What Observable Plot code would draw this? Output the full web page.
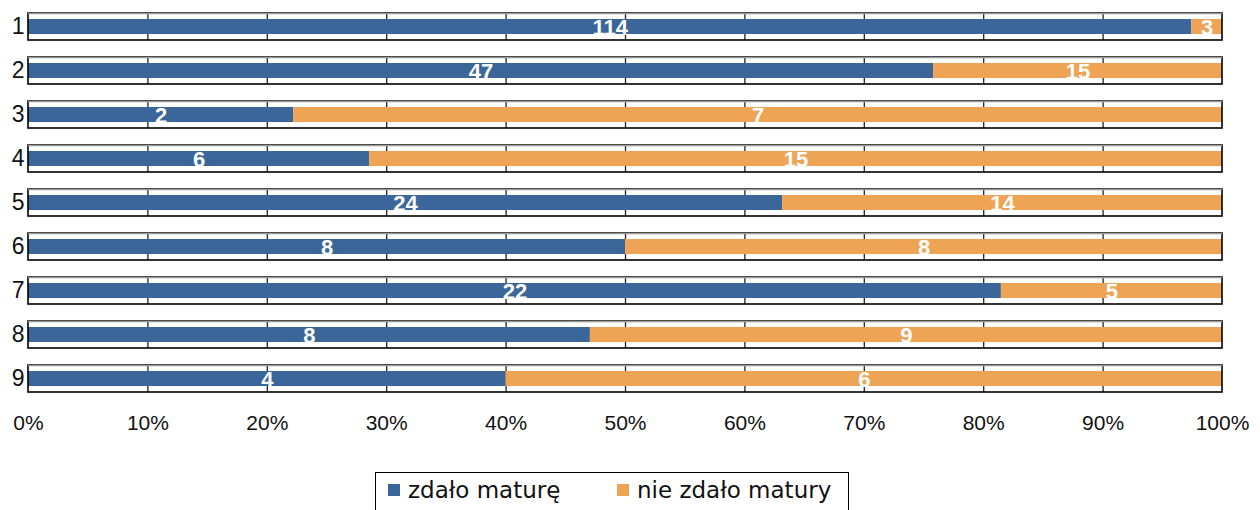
<!DOCTYPE html>
<html>
<head>
<meta charset="utf-8">
<script src="https://cdn.jsdelivr.net/npm/d3@7"></script>
<script src="https://cdn.jsdelivr.net/npm/@observablehq/plot@0.6"></script>
<style>
  body { margin: 0; background: #fff; font-family: "Liberation Sans", Arial, sans-serif; }
  #legend {
    position: absolute; left: 375px; top: 472px; width: 474px; height: 50px;
    border: 1.5px solid #000; box-sizing: border-box;
    font-family: "DejaVu Sans", Verdana, sans-serif; font-size: 23px; color: #111;
  }
  .item { position: absolute; top: 3px; display: flex; align-items: center; line-height: 28px; }
  .sw { width: 12px; height: 12px; margin-right: 8px; }
</style>
</head>
<body>
<div id="chart"></div>
<div id="legend">
  <div class="item" style="left:12px"><span class="sw" style="background:#3A6699"></span>zdało maturę</div>
  <div class="item" style="left:241px"><span class="sw" style="background:#EEA355"></span>nie zdało matury</div>
</div>
<script>
const categories = ["1","2","3","4","5","6","7","8","9"];
const passed = [114, 47, 2, 6, 24, 8, 22, 8, 4];
const failed = [3, 15, 7, 15, 14, 8, 5, 9, 6];
const seriesNames = ["zdało maturę", "nie zdało matury"];
const seriesColors = ["#3A6699", "#EEA355"];
const xTicks = [0, 0.1, 0.2, 0.3, 0.4, 0.5, 0.6, 0.7, 0.8, 0.9, 1];

const data = [];
categories.forEach((c, i) => {
  data.push({row: c, series: seriesNames[0], value: passed[i]});
  data.push({row: c, series: seriesNames[1], value: failed[i]});
});
const boxes = categories.map(c => ({row: c}));
const grid = [];
categories.forEach(c => xTicks.slice(1, -1).forEach(t => grid.push({row: c, x: t})));

const stackOpts = {x: "value", y: "row", z: "series", offset: "normalize", order: seriesNames};

const chart = Plot.plot({
  width: 1260,
  height: 442,
  marginLeft: 28,
  marginRight: 38,
  marginTop: 13,
  marginBottom: 50,
  style: {fontFamily: "'Liberation Sans', Arial, sans-serif", fontSize: "21px", color: "#111", background: "#fff"},
  x: {domain: [0, 1], ticks: xTicks, tickFormat: d => Math.round(d * 100) + "%", tickSize: 0, tickPadding: 23, label: null},
  y: {domain: categories, paddingInner: 17/44, paddingOuter: 0, tickSize: 0, tickPadding: 4, label: null},
  color: {domain: seriesNames, range: seriesColors},
  marks: [
    Plot.barX(boxes, {x1: 0, x2: 1, y: "row", fill: "#fff"}),
    Plot.tickX(grid, {x: "x", y: "row", stroke: "#222", strokeWidth: 1.3}),
    Plot.barX(data, Plot.stackX({...stackOpts, fill: "series", insetTop: 6, insetBottom: 6})),
    Plot.barX(boxes, {x1: 0, x2: 1, y: "row", fill: "none", stroke: "#000", strokeWidth: 1.6}),
    Plot.ruleY(boxes, {y: "row", x1: 0, x2: 1, dy: -13.5, stroke: "#999", strokeWidth: 1.6}),
    Plot.axisY({tickSize: 0, tickPadding: 4, fontSize: 23}),
    Plot.text(data, Plot.stackX({...stackOpts, text: "value", fill: "#fff", fontWeight: "bold", fontSize: 22, dy: 1}))
  ]
});
document.getElementById("chart").appendChild(chart);
</script>
</body>
</html>
